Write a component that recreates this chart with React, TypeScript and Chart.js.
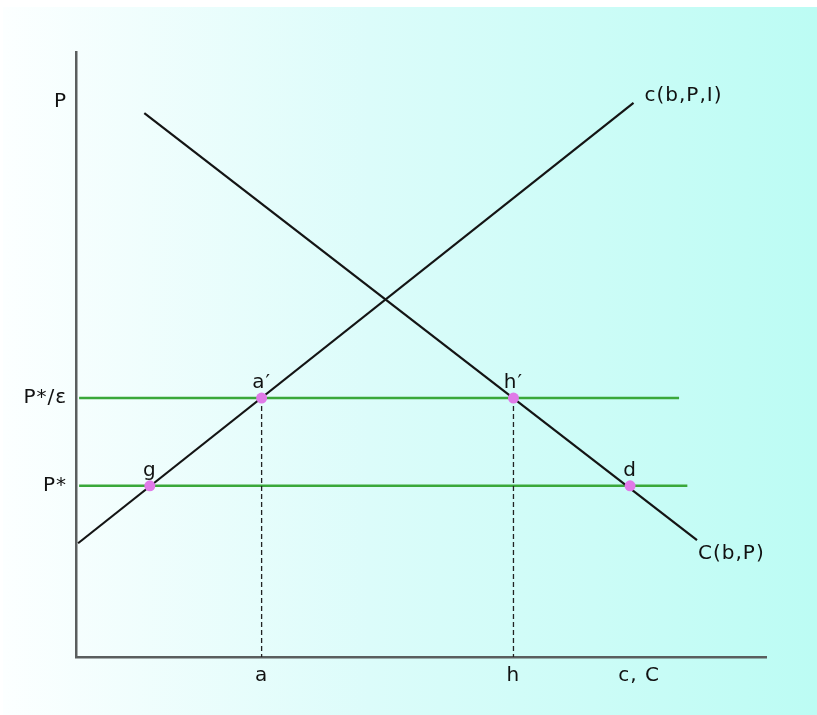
import { useEffect, useRef } from "react";
import { Chart, registerables } from "chart.js";

Chart.register(...registerables);

// Axis ticks
const xTickValues = [26.9, 63.4, 81.6];
const xTickLabels = ["a", "h", "c, C"];
const yTickValues = [28.3, 42.8, 91.7];
const yTickLabels = ["P*", "P*/ε", "P"];

// Curves (two end points each)
const supplyX = [0.3, 80.8];
const supplyY = [18.8, 91.6];
const demandX = [9.9, 90.0];
const demandY = [89.9, 19.3];
const curveLabels = ["c(b,P,I)", "C(b,P)"];

// Horizontal price lines: P*/ε and P*
const priceLineY = [42.8, 28.3];
const priceLineStartX = [0.45, 0.45];
const priceLineEndX = [87.4, 88.6];

// Vertical dashed drops at a and h
const dropX = [26.9, 63.4];
const dropTopY = [42.8, 42.8];

// Marked intersection points
const pointLabels = ["a′", "h′", "g", "d"];
const pointX = [26.9, 63.4, 10.7, 80.3];
const pointY = [42.8, 42.8, 28.3, 28.3];

const FONT = "'DejaVu Sans', 'Liberation Sans', sans-serif";
const TEXT = "#111111";
const SPACING = "1px";

const labelPlugin = {
  id: "diagramLabels",
  beforeDraw(chart: any) {
    chart.ctx.letterSpacing = SPACING;
  },
  afterDatasetsDraw(chart: any) {
    const ctx = chart.ctx;
    const xs = chart.scales.x;
    const ys = chart.scales.y;
    ctx.save();
    ctx.letterSpacing = SPACING;
    ctx.font = `20px ${FONT}`;
    ctx.fillStyle = TEXT;
    ctx.textAlign = "center";
    ctx.textBaseline = "alphabetic";
    pointLabels.forEach((t, i) => {
      ctx.fillText(t, xs.getPixelForValue(pointX[i]), ys.getPixelForValue(pointY[i]) - 10);
    });
    ctx.textAlign = "left";
    ctx.textBaseline = "middle";
    ctx.fillText(
      curveLabels[0],
      xs.getPixelForValue(supplyX[1]) + 11,
      ys.getPixelForValue(supplyY[1]) - 7
    );
    ctx.fillText(
      curveLabels[1],
      xs.getPixelForValue(demandX[1]) + 1,
      ys.getPixelForValue(demandY[1]) + 14
    );
    ctx.restore();
  },
};

export default function App() {
  const canvasRef = useRef<HTMLCanvasElement | null>(null);

  useEffect(() => {
    if (!canvasRef.current) return;
    const datasets: any[] = [];

    datasets.push({
      label: "c(b,P,I)",
      data: supplyX.map((x, i) => ({ x, y: supplyY[i] })),
      borderColor: "#141414",
      borderWidth: 2.2,
      pointRadius: 0,
      order: 1,
    });
    datasets.push({
      label: "C(b,P)",
      data: demandX.map((x, i) => ({ x, y: demandY[i] })),
      borderColor: "#141414",
      borderWidth: 2.2,
      pointRadius: 0,
      order: 1,
    });
    priceLineY.forEach((y, i) => {
      datasets.push({
        label: "price" + i,
        data: [
          { x: priceLineStartX[i], y },
          { x: priceLineEndX[i], y },
        ],
        borderColor: "#3aa83a",
        borderWidth: 2.5,
        pointRadius: 0,
        order: 3,
      });
    });
    dropX.forEach((x, i) => {
      datasets.push({
        label: "drop" + i,
        data: [
          { x, y: dropTopY[i] },
          { x, y: 0 },
        ],
        borderColor: "#222",
        borderWidth: 1.3,
        borderDash: [5, 3],
        pointRadius: 0,
        order: 2,
      });
    });
    datasets.push({
      label: "points",
      data: pointX.map((x, i) => ({ x, y: pointY[i] })),
      showLine: false,
      pointRadius: 5.5,
      pointHoverRadius: 5.5,
      pointBackgroundColor: "#e07ae8",
      pointBorderWidth: 0,
      order: 0,
    });

    const chart = new Chart(canvasRef.current, {
      type: "line",
      data: { datasets },
      plugins: [labelPlugin],
      options: {
        animation: false,
        responsive: false,
        devicePixelRatio: 1,
        layout: { padding: { left: 0, top: 52, right: 51, bottom: 0 } },
        plugins: { legend: { display: false }, tooltip: { enabled: false } },
        elements: { line: { tension: 0 } },
        datasets: { line: { clip: false } } as any,
        scales: {
          x: {
            type: "linear",
            min: 0,
            max: 100,
            grid: { display: false, drawTicks: false },
            border: { display: true, color: "#5a5e5e", width: 2.5 },
            afterBuildTicks: (s: any) => {
              s.ticks = xTickValues.map((v) => ({ value: v }));
            },
            afterFit: (s: any) => {
              s.height = 58;
            },
            ticks: {
              autoSkip: false,
              maxRotation: 0,
              padding: 7,
              color: TEXT,
              font: { family: FONT, size: 20 },
              callback: (_v: any, i: number) => xTickLabels[i],
            },
          },
          y: {
            type: "linear",
            min: 0,
            max: 100,
            grid: { display: false, drawTicks: false },
            border: { display: true, color: "#5a5e5e", width: 2.5 },
            afterBuildTicks: (s: any) => {
              s.ticks = yTickValues.map((v) => ({ value: v }));
            },
            afterFit: (s: any) => {
              s.width = 76;
            },
            ticks: {
              autoSkip: false,
              padding: 9,
              color: TEXT,
              font: { family: FONT, size: 20 },
              callback: (_v: any, i: number) => yTickLabels[i],
            },
          },
        },
      },
    });
    return () => chart.destroy();
  }, []);

  return (
    <div
      style={{
        position: "absolute",
        left: 0,
        top: 0,
        width: 817,
        height: 715,
        background: "#ffffff",
        overflow: "hidden",
      }}
    >
      <div
        style={{
          position: "absolute",
          left: 3,
          top: 7,
          right: 0,
          bottom: 0,
          background: "linear-gradient(to right, #fcffff 0%, #dcfcfa 45%, #bcfcf4 100%)",
        }}
      />
      <canvas
        ref={canvasRef}
        width={817}
        height={715}
        style={{ position: "absolute", left: 0, top: 0, display: "block" }}
      />
    </div>
  );
}
